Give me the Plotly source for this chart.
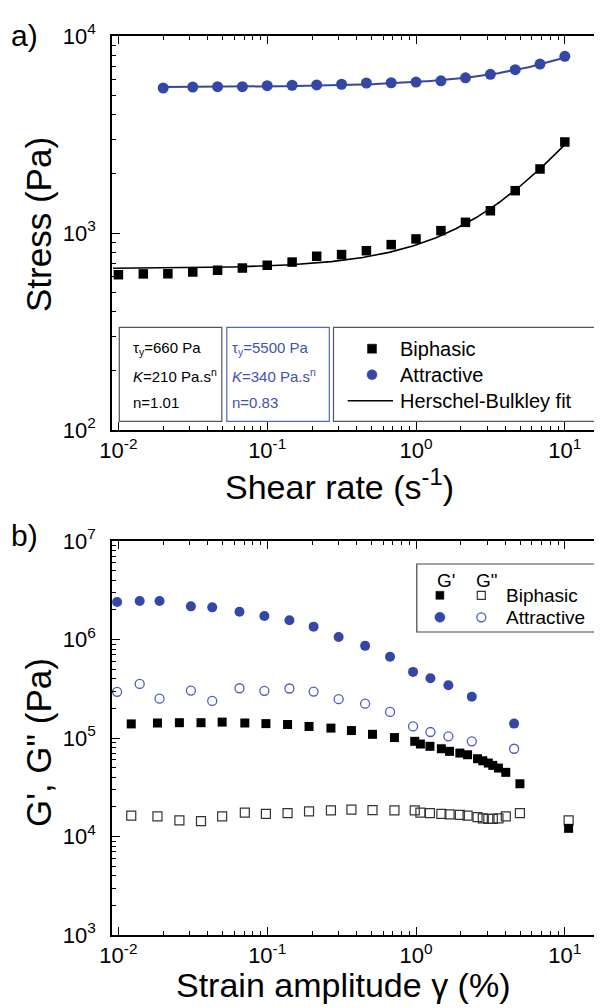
import numpy as np
import plotly.graph_objects as go

# ---------------- Panel a) flow curves ----------------
shear_rate_biphasic = [0.01, 0.0147, 0.0215, 0.0316, 0.0464, 0.0681, 0.1, 0.147, 0.215, 0.316,
                       0.464, 0.681, 1.0, 1.47, 2.15, 3.16, 4.64, 6.81, 10.0]
stress_biphasic = [614, 620, 621, 634, 647, 664, 686, 712, 762, 777,
                   813, 873, 933, 1028, 1133, 1297, 1640, 2113, 2897]

shear_rate_attractive = [0.02, 0.0316, 0.0464, 0.0681, 0.1, 0.147, 0.215, 0.316, 0.464,
                         0.681, 1.0, 1.47, 2.15, 3.16, 4.64, 6.81, 10.0]
stress_attractive = [5445, 5510, 5532, 5532, 5598, 5624, 5643, 5689, 5774,
                     5790, 5837, 5926, 6137, 6393, 6748, 7206, 7888]

# Herschel-Bulkley parameters stated on the chart
HB_BIPHASIC = dict(tau_y=660, K=210, n=1.01)
HB_ATTRACTIVE = dict(tau_y=5500, K=340, n=0.83)
FIT_RANGE_BIPHASIC = (0.0092, 10.0)
FIT_RANGE_ATTRACTIVE = (0.02, 10.0)

# ---------------- Panel b) amplitude sweeps ----------------
strain_biphasic = [0.0122, 0.0183, 0.0257, 0.0359, 0.0498, 0.0707, 0.098, 0.137, 0.191, 0.268,
                   0.368, 0.51, 0.716, 0.98, 1.07, 1.24, 1.48, 1.68, 1.97, 2.22,
                   2.59, 2.81, 3.06, 3.28, 3.58, 4.01, 4.99, 10.6]
gp_biphasic = [1.39e5, 1.42e5, 1.43e5, 1.43e5, 1.45e5, 1.42e5, 1.40e5, 1.37e5, 1.31e5, 1.26e5,
               1.19e5, 1.09e5, 1.01e5, 9.25e4, 8.69e4, 8.23e4, 7.78e4, 7.32e4, 7.03e4, 6.76e4,
               6.16e4, 5.87e4, 5.57e4, 5.27e4, 4.95e4, 4.48e4, 3.43e4, 1.21e4]
gpp_biphasic = [1.63e4, 1.60e4, 1.46e4, 1.43e4, 1.60e4, 1.75e4, 1.70e4, 1.73e4, 1.80e4, 1.84e4,
                1.87e4, 1.85e4, 1.84e4, 1.84e4, 1.75e4, 1.73e4, 1.70e4, 1.68e4, 1.66e4, 1.63e4,
                1.57e4, 1.53e4, 1.51e4, 1.51e4, 1.53e4, 1.60e4, 1.73e4, 1.46e4]

strain_attractive = [0.0098, 0.0139, 0.0189, 0.0307, 0.0427, 0.0651, 0.0957, 0.141, 0.205,
                     0.302, 0.455, 0.669, 0.955, 1.25, 1.65, 2.37, 4.56]
gp_attractive = [2.40e6, 2.46e6, 2.46e6, 2.17e6, 2.12e6, 1.91e6, 1.73e6, 1.57e6, 1.35e6,
                 1.06e6, 8.62e5, 6.67e5, 4.69e5, 4.05e5, 3.43e5, 2.63e5, 1.40e5]
gpp_attractive = [2.94e5, 3.54e5, 2.51e5, 3.03e5, 2.38e5, 3.20e5, 3.01e5, 3.18e5, 2.96e5,
                  2.48e5, 2.23e5, 1.84e5, 1.31e5, 1.15e5, 1.04e5, 9.25e4, 7.78e4]

# tick labels
x_tickvals = [0.01, 0.1, 1, 10]
x_ticktext = ["10<sup>-2</sup>", "10<sup>-1</sup>", "10<sup>0</sup>", "10<sup>1</sup>"]
ya_tickvals = [100, 1000, 10000]
ya_ticktext = ["10<sup>2</sup>", "10<sup>3</sup>", "10<sup>4</sup>"]
yb_tickvals = [1e3, 1e4, 1e5, 1e6, 1e7]
yb_ticktext = ["10<sup>3</sup>", "10<sup>4</sup>", "10<sup>5</sup>", "10<sup>6</sup>", "10<sup>7</sup>"]

BLUE = "#3447a6"
BLUE_OPEN = "#4a5bc4"
BLUE_TEXT = "#3f50b4"
FONT = "Liberation Sans, Arial, sans-serif"


def hb(params, gamma):
    return params["tau_y"] + params["K"] * np.power(gamma, params["n"])


fit_x_b = np.logspace(np.log10(FIT_RANGE_BIPHASIC[0]), np.log10(FIT_RANGE_BIPHASIC[1]), 200)
fit_x_a = np.logspace(np.log10(FIT_RANGE_ATTRACTIVE[0]), np.log10(FIT_RANGE_ATTRACTIVE[1]), 200)

fig = go.Figure()

# panel a
fig.add_trace(go.Scatter(x=fit_x_b, y=hb(HB_BIPHASIC, fit_x_b), mode="lines",
                         line=dict(color="black", width=1.6), name="Herschel-Bulkley fit",
                         xaxis="x", yaxis="y"))
fig.add_trace(go.Scatter(x=fit_x_a, y=hb(HB_ATTRACTIVE, fit_x_a), mode="lines",
                         line=dict(color=BLUE, width=2), name="HB fit (attractive)",
                         xaxis="x", yaxis="y"))
fig.add_trace(go.Scatter(x=shear_rate_biphasic, y=stress_biphasic, mode="markers",
                         marker=dict(symbol="square", size=9.5, color="black"), name="Biphasic",
                         xaxis="x", yaxis="y"))
fig.add_trace(go.Scatter(x=shear_rate_attractive, y=stress_attractive, mode="markers",
                         marker=dict(symbol="circle", size=11, color=BLUE), name="Attractive",
                         xaxis="x", yaxis="y"))

# panel b
fig.add_trace(go.Scatter(x=strain_biphasic, y=gpp_biphasic, mode="markers",
                         marker=dict(symbol="square-open", size=9, color="#333333",
                                     line=dict(width=1.2)), name="G'' Biphasic",
                         xaxis="x2", yaxis="y2"))
fig.add_trace(go.Scatter(x=strain_biphasic, y=gp_biphasic, mode="markers",
                         marker=dict(symbol="square", size=9, color="black"), name="G' Biphasic",
                         xaxis="x2", yaxis="y2"))
fig.add_trace(go.Scatter(x=strain_attractive, y=gpp_attractive, mode="markers",
                         marker=dict(symbol="circle-open", size=9, color=BLUE_OPEN,
                                     line=dict(width=1.3)), name="G'' Attractive",
                         xaxis="x2", yaxis="y2"))
fig.add_trace(go.Scatter(x=strain_attractive, y=gp_attractive, mode="markers",
                         marker=dict(symbol="circle", size=10, color=BLUE), name="G' Attractive",
                         xaxis="x2", yaxis="y2"))

# geometry (pixels)
W, H = 602, 1008
PL, PR, PT, PB = 104, 600, 28, 927
A_BOTTOM, B_TOP = 422, 533


def px(x):
    return (x - PL) / (PR - PL)


def py(y):
    return (PB - y) / (PB - PT)


minor_x = [m * 10.0 ** e for e in (-2, -1, 0) for m in range(2, 10)]
minor_ya = [m * 10.0 ** e for e in (2, 3) for m in range(2, 10)]
minor_yb = [m * 10.0 ** e for e in (3, 4, 5, 6) for m in range(2, 10)]

axis_common = dict(type="log", showgrid=False, zeroline=False, showline=True,
                   linecolor="black", linewidth=1.6, mirror="allticks", automargin=False,
                   ticks="inside", ticklen=8, tickwidth=1.4, tickcolor="black",
                   tickfont=dict(family=FONT, size=22, color="black"))

fig.update_layout(
    width=W, height=H,
    margin=dict(l=PL, r=W - PR, t=PT, b=H - PB, pad=0, autoexpand=False),
    paper_bgcolor="white", plot_bgcolor="white",
    showlegend=False,
    font=dict(family=FONT, color="black"),
    xaxis=dict(axis_common, range=[-2.043, 1.29], domain=[0, 1], anchor="y",
               tickmode="array", tickvals=x_tickvals, ticktext=x_ticktext,
               ticklabelstandoff=0,
               minor=dict(ticks="inside", ticklen=4, tickwidth=1.2, tickcolor="black",
                          tickmode="array", tickvals=minor_x, showgrid=False)),
    yaxis=dict(axis_common, range=[2, 4], domain=[py(A_BOTTOM), 1], anchor="x",
               tickmode="array", tickvals=ya_tickvals, ticktext=ya_ticktext,
               ticklabelstandoff=10,
               minor=dict(ticks="inside", ticklen=4, tickwidth=1.2, tickcolor="black",
                          tickmode="array", tickvals=minor_ya, showgrid=False)),
    xaxis2=dict(axis_common, range=[-2.043, 1.29], domain=[0, 1], anchor="y2",
                tickmode="array", tickvals=x_tickvals, ticktext=x_ticktext,
                ticklabelstandoff=0,
                minor=dict(ticks="inside", ticklen=4, tickwidth=1.2, tickcolor="black",
                           tickmode="array", tickvals=minor_x, showgrid=False)),
    yaxis2=dict(axis_common, range=[3, 7], domain=[0, py(B_TOP)], anchor="x2",
                tickmode="array", tickvals=yb_tickvals, ticktext=yb_ticktext,
                ticklabelstandoff=10,
                minor=dict(ticks="inside", ticklen=4, tickwidth=1.2, tickcolor="black",
                           tickmode="array", tickvals=minor_yb, showgrid=False)),
)

shapes = []
annotations = []


def rect(x0, y0, x1, y1, color, width=1.0, fill=None):
    shapes.append(dict(type="rect", xref="paper", yref="paper",
                       x0=px(x0), x1=px(x1), y0=py(y1), y1=py(y0),
                       line=dict(color=color, width=width),
                       fillcolor=fill if fill else "rgba(0,0,0,0)"))


def circle(cx, cy, r, color, fill=None, width=1.2):
    shapes.append(dict(type="circle", xref="paper", yref="paper",
                       x0=px(cx - r), x1=px(cx + r), y0=py(cy + r), y1=py(cy - r),
                       line=dict(color=color, width=width),
                       fillcolor=fill if fill else "rgba(0,0,0,0)"))


def text(x, y, s, size, color="black", xanchor="left", angle=0):
    annotations.append(dict(xref="paper", yref="paper", x=px(x), y=py(y), text=s,
                            showarrow=False, xanchor=xanchor, yanchor="middle",
                            textangle=angle, borderpad=0,
                            font=dict(family=FONT, size=size, color=color)))


# panel a parameter boxes
rect(111.3, 319.3, 213.8, 413.3, "#555555", 1.2, "white")
rect(218.8, 319.3, 321.3, 413.3, "#5565c0", 1.2, "white")
rect(325.5, 319.3, 588.5, 413.3, "#555555", 1.2, "white")

text(124, 340.7, "τ<sub>y</sub>=660 Pa", 15)
text(124, 367, "<i>K</i>=210 Pa.s<sup>n</sup>", 15)
text(124, 394, "n=1.01", 15)
text(222.5, 340.7, "τ<sub>y</sub>=5500 Pa", 15, BLUE_TEXT)
text(222.5, 367, "<i>K</i>=340 Pa.s<sup>n</sup>", 15, BLUE_TEXT)
text(222.5, 394, "n=0.83", 15, BLUE_TEXT)

# panel a legend
rect(359.5, 336.2, 368.5, 345.2, "black", 0.5, "black")
circle(364, 366.7, 5, BLUE, BLUE, 0.5)
shapes.append(dict(type="line", xref="paper", yref="paper",
                   x0=px(339.7), x1=px(385), y0=py(392.7), y1=py(392.7),
                   line=dict(color="black", width=1.6)))
text(391, 340.7, "Biphasic", 20)
text(391, 366.7, "Attractive", 20)
text(391, 392.7, "Herschel-Bulkley fit", 20)

# panel b legend
rect(408.8, 556, 587.3, 624, "#444444", 1.2, "white")
text(428, 572.7, "G'", 19)
text(467, 572.7, "G\"", 19)
rect(427.9, 583.3, 435.9, 591.3, "black", 0.5, "black")
rect(469.3, 583.3, 477.3, 591.3, "#333333", 1.2)
circle(431.9, 609.3, 5, BLUE, BLUE, 0.5)
circle(473.3, 609.3, 4.5, BLUE_OPEN, None, 1.3)
text(497, 587.3, "Biphasic", 19)
text(497, 609.3, "Attractive", 19)

# axis titles and panel labels
text(331.7, 476, "Shear rate (s<sup>-1</sup>)", 34, xanchor="center")
text(335, 977, "Strain amplitude γ (%)", 34, xanchor="center")
text(30, 217, "Stress (Pa)", 35, xanchor="center", angle=-90)
text(30, 735, "G', G\" (Pa)", 35, xanchor="center", angle=-90)
text(2, 27, "a)", 30)
text(2, 527, "b)", 30)

fig.update_layout(shapes=shapes, annotations=annotations)

fig.write_html("out.html")
